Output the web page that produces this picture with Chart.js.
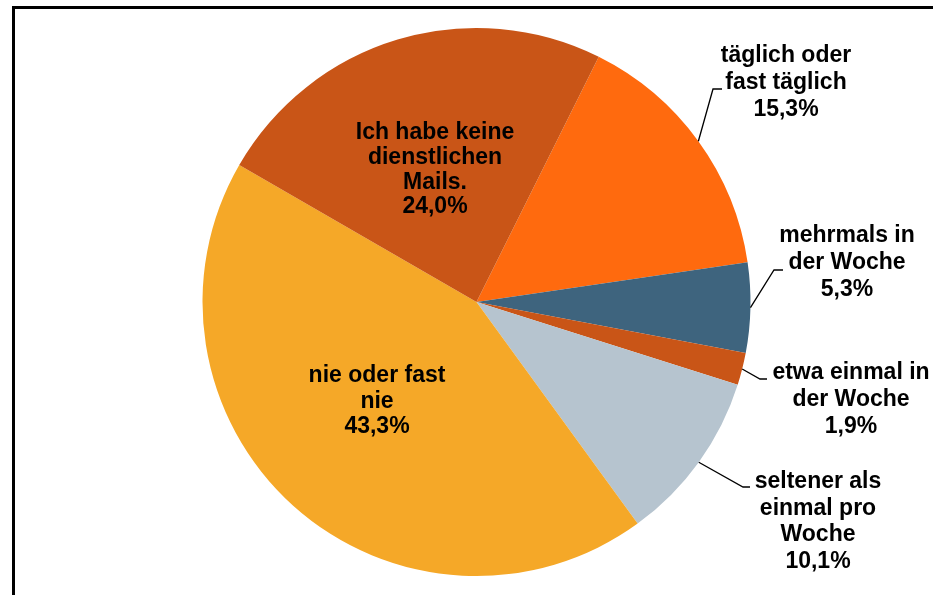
<!DOCTYPE html>
<html lang="de">
<head>
<meta charset="utf-8">
<title>Dienstliche Mails</title>
<script src="https://cdn.jsdelivr.net/npm/chart.js@4/dist/chart.umd.min.js"></script>
<style>
    html, body { margin: 0; padding: 0; background: #fff; overflow: hidden; }
    #wrap { position: relative; width: 933px; height: 595px; }
    #frame {
        position: absolute; left: 12px; top: 6px; width: 960px; height: 620px;
        border-left: 3px solid #000; border-top: 3px solid #000;
        box-sizing: border-box; pointer-events: none;
    }
    #mails-canvas { position: absolute; left: 0; top: 0; }
</style>
</head>
<body>
<div id="wrap">
    <canvas id="mails-canvas" width="933" height="595"></canvas>
    <div id="frame"></div>
</div>
<script>
var categories = [
    ['täglich oder', 'fast täglich'],
    ['mehrmals in', 'der Woche'],
    ['etwa einmal in', 'der Woche'],
    ['seltener als', 'einmal pro', 'Woche'],
    ['nie oder fast', 'nie'],
    ['Ich habe keine', 'dienstlichen', 'Mails.']
];
var shares = [15.3, 5.3, 1.9, 10.1, 43.3, 24.0];
var sliceColors = ['#FF6A0E', '#3E647E', '#C95517', '#B6C4CF', '#F5A828', '#C95517'];

// where each label sits; "leader" = elbow point and end of the short horizontal
var labelLayout = [
    { x: 786, y: 62, lh: 27, leader: [713, 89, 722, 89] },
    { x: 847, y: 242, lh: 27, leader: [774, 270, 783, 270] },
    { x: 851, y: 379, lh: 27, leader: [760, 379, 767, 379] },
    { x: 818, y: 488, lh: 26.7, leader: [743, 487, 750, 487] },
    { x: 377, y: 382, lh: 25.5, leader: null },
    { x: 435, y: 139, lh: 24.8, leader: null }
];

function pct(v) {
    return v.toFixed(1).replace('.', ',') + '%';
}

var sliceLabels = {
    id: 'sliceLabels',
    afterDatasetsDraw: function (chart) {
        var ctx = chart.ctx;
        var arcs = chart.getDatasetMeta(0).data;
        ctx.save();
        arcs.forEach(function (arc, i) {
            var lay = labelLayout[i];
            if (lay.leader) {
                var mid = (arc.startAngle + arc.endAngle) / 2;
                var ax = arc.x + Math.cos(mid) * arc.outerRadius;
                var ay = arc.y + Math.sin(mid) * arc.outerRadius;
                ctx.beginPath();
                ctx.moveTo(ax, ay);
                ctx.lineTo(lay.leader[0], lay.leader[1]);
                ctx.lineTo(lay.leader[2], lay.leader[3]);
                ctx.strokeStyle = '#000';
                ctx.lineWidth = 1.3;
                ctx.stroke();
            }
            var lines = categories[i].concat([pct(shares[i])]);
            ctx.fillStyle = '#000';
            ctx.font = 'bold 23px "Liberation Sans", Arial, sans-serif';
            ctx.textAlign = 'center';
            ctx.textBaseline = 'alphabetic';
            lines.forEach(function (t, k) {
                ctx.fillText(t, lay.x, lay.y + k * lay.lh);
            });
        });
        ctx.restore();
    }
};

new Chart(document.getElementById('mails-canvas'), {
    type: 'pie',
    data: {
        labels: categories.map(function (c) { return c.join(' '); }),
        datasets: [{
            data: shares,
            backgroundColor: sliceColors,
            borderWidth: 0
        }]
    },
    options: {
        responsive: false,
        animation: false,
        rotation: 26.5,
        layout: { padding: { left: 202, right: 182, top: 28, bottom: 19 } },
        plugins: {
            legend: { display: false },
            tooltip: { enabled: false }
        }
    },
    plugins: [sliceLabels]
});
</script>
</body>
</html>
